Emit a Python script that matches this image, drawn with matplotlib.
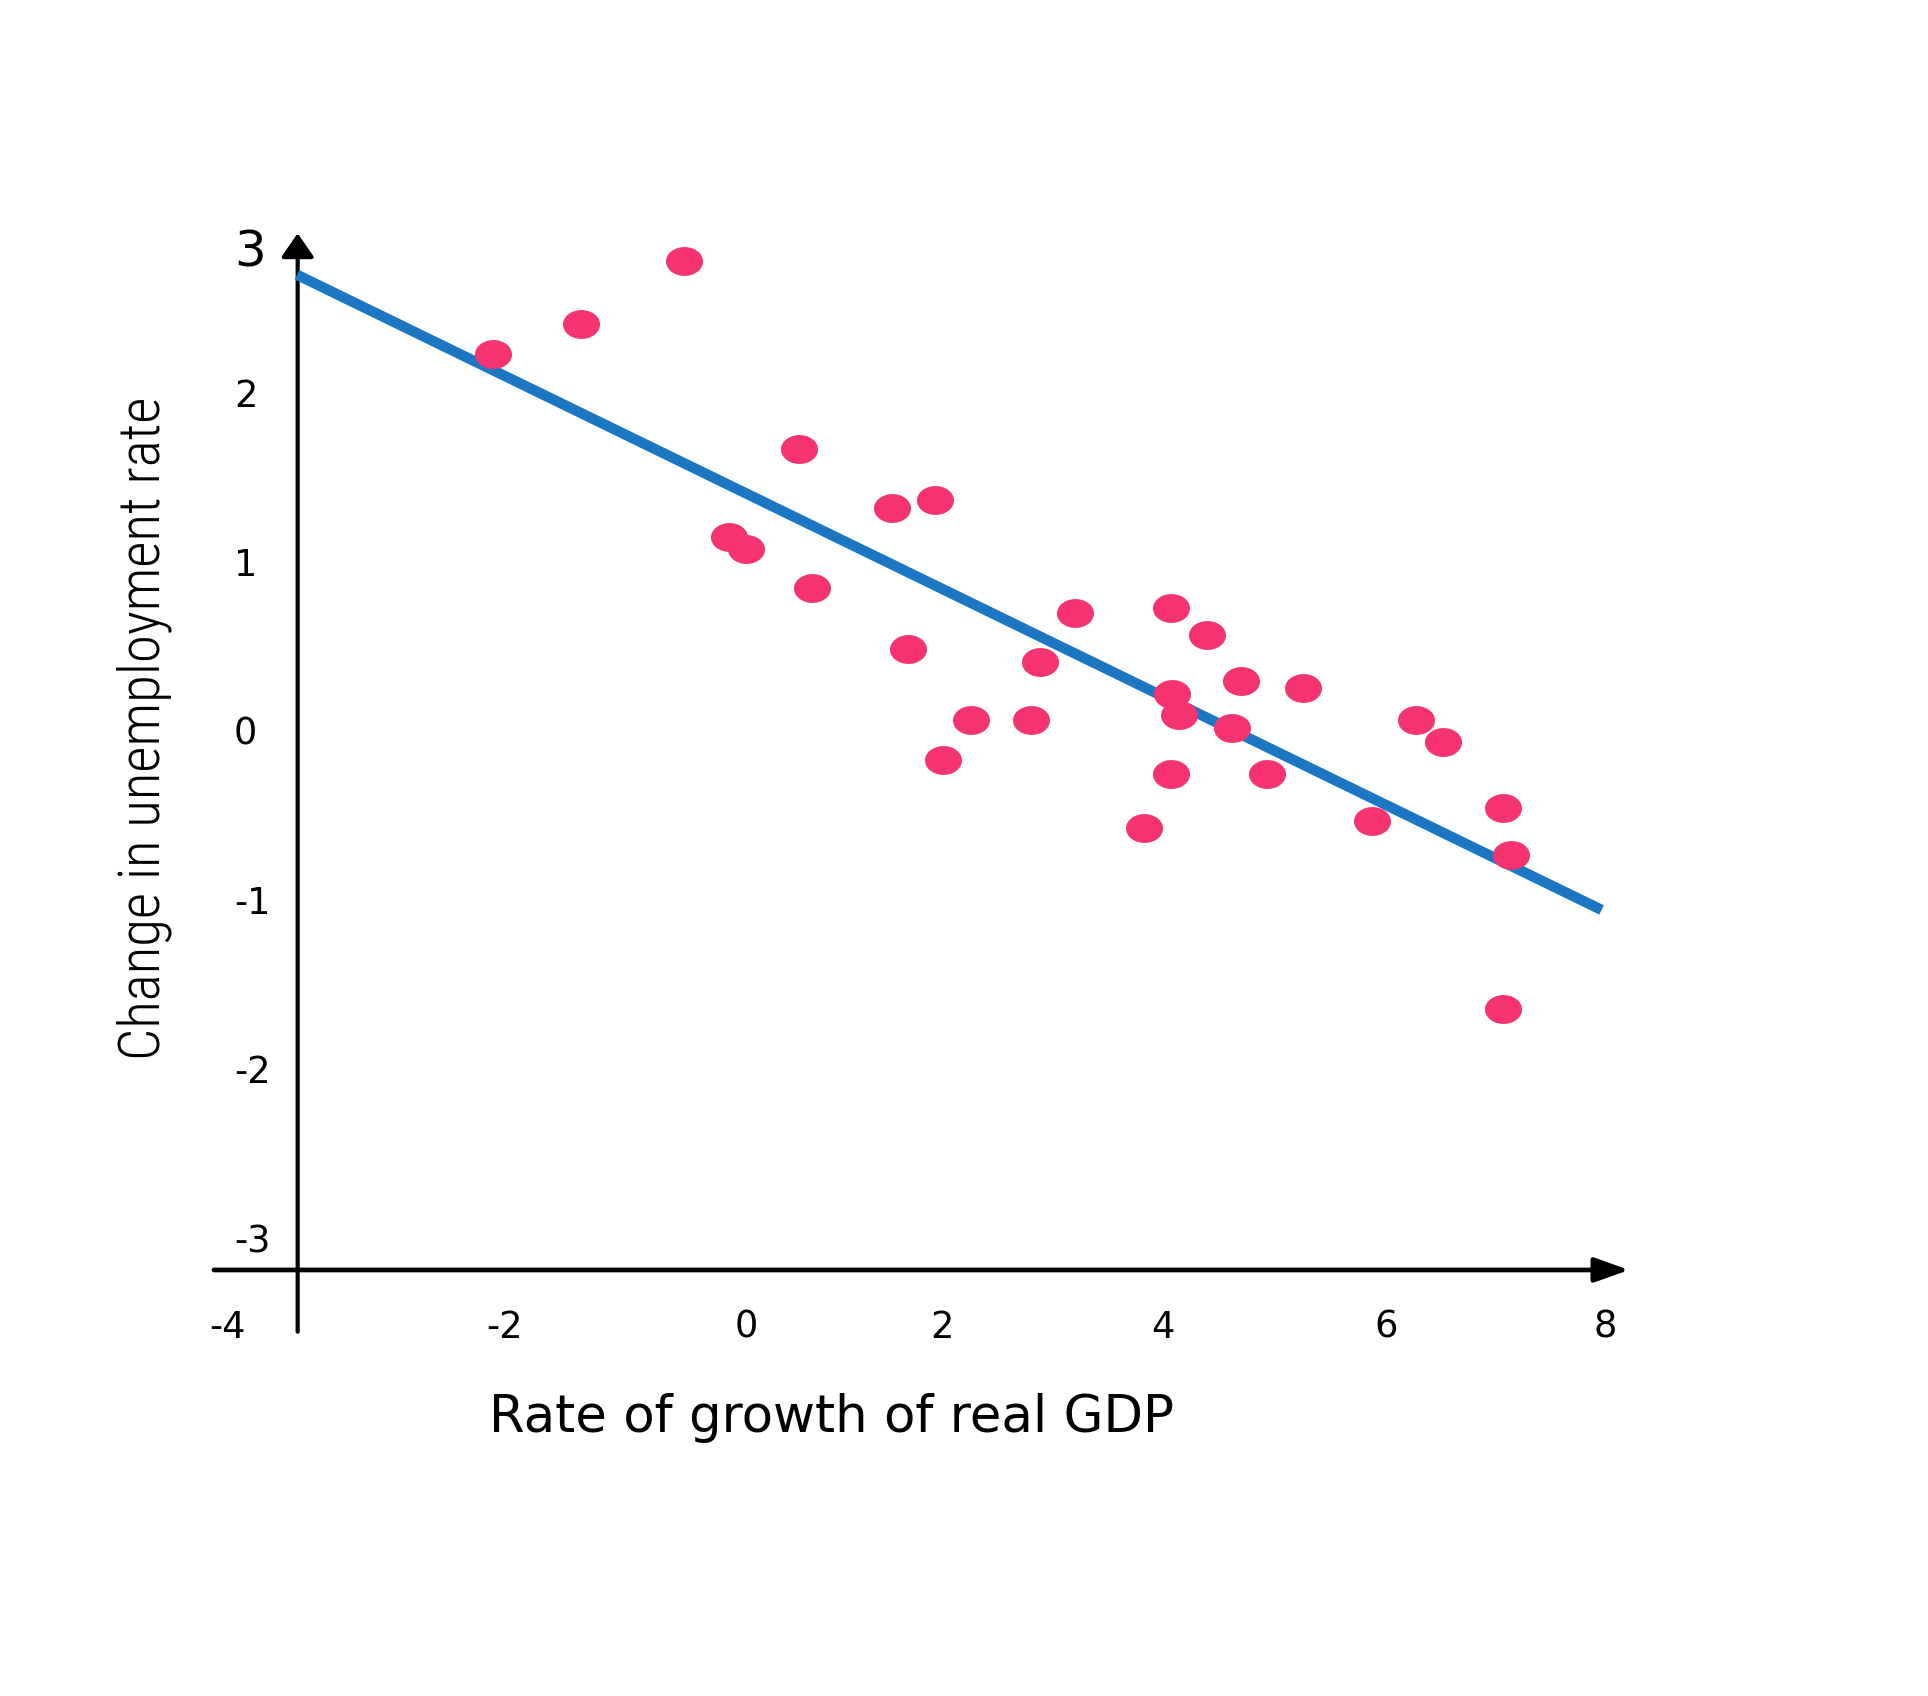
import matplotlib
matplotlib.use("Agg")
import matplotlib.pyplot as plt
import numpy as np
from matplotlib.transforms import ScaledTranslation
from matplotlib import font_manager

# ---------------- data ----------------
gdp_growth = [-2.17, -1.36, -0.42, 0.63, -0.01, 0.15, 0.75, 1.48, 1.87, 1.63,
              2.20, 1.95, 2.83, 2.75, 3.15, 4.03, 4.36, 4.04, 4.11, 4.59,
              4.67, 5.24, 4.03, 4.91, 3.79, 5.87, 6.27, 6.52, 7.07, 7.14, 7.07]
unemp_change = [2.23, 2.41, 2.78, 1.67, 1.15, 1.08, 0.85, 1.32, 1.37, 0.49,
                0.07, -0.17, 0.41, 0.07, 0.70, 0.73, 0.57, 0.22, 0.10, 0.02,
                0.30, 0.26, -0.25, -0.25, -0.57, -0.53, 0.07, -0.06, -0.45, -0.73, -1.64]

fit_x = [-3.96, 7.97]
fit_y = [2.70, -1.054]

x_ticks = [-4, -2, 0, 2, 4, 6, 8]
x_tick_labels = ["-4", "-2", "0", "2", "4", "6", "8"]
y_ticks = [-3, -2, -1, 0, 1, 2]
y_tick_labels = ["-3", "-2", "-1", "0", "1", "2"]
y_top_label = "3"

x_label = "Rate of growth of real GDP"
y_label = "Change in unemployment rate"

# ---------------- style ----------------
DOT_COLOR = "#f4336f"
LINE_COLOR = "#1c77c3"

fig = plt.figure(figsize=(19.28, 16.96), dpi=100)
ax = fig.add_axes([0, 0, 1, 1])
ax.set_xlim(-6.676, 10.955)
ax.set_ylim(-5.700, 4.324)
ax.axis("off")

X_AXIS_Y = -3.182
Y_AXIS_X = -3.954

def px(dx, dy):
    return ScaledTranslation(dx / 100.0, dy / 100.0, fig.dpi_scale_trans)

# axes with arrows
ax.annotate("", xy=(8.221, X_AXIS_Y), xytext=(-4.719, X_AXIS_Y),
            arrowprops=dict(arrowstyle="-|>,head_length=2.1,head_width=0.75",
                            mutation_scale=10, lw=3.4, color="black",
                            shrinkA=0, shrinkB=0), zorder=1)
ax.annotate("", xy=(Y_AXIS_X, 2.945), xytext=(Y_AXIS_X, -3.547),
            arrowprops=dict(arrowstyle="-|>,head_length=1.45,head_width=1.0",
                            mutation_scale=10, lw=3.0, color="black",
                            shrinkA=0, shrinkB=0), zorder=1)

# regression line
ax.plot(fit_x, fit_y, color=LINE_COLOR, lw=7.5, solid_capstyle="butt", zorder=2)

# elliptical dots
t = np.linspace(0, 2 * np.pi, 80)
ell = np.column_stack([np.cos(t), 0.78 * np.sin(t)])
ax.scatter(gdp_growth, unemp_change, marker=ell, s=710, c=DOT_COLOR,
           linewidths=0, zorder=3)

# x tick labels
x_nudge = {-4: -65, -2: -7, 0: 16, 2: -7, 4: -5}
for v, lab in zip(x_ticks, x_tick_labels):
    ax.text(v, X_AXIS_Y, lab, ha="center", va="baseline", fontsize=26.5,
            family="DejaVu Sans",
            transform=ax.transData + px(x_nudge.get(v, 0), -68))

# y tick labels
for v, lab in zip(y_ticks, y_tick_labels):
    ax.text(Y_AXIS_X, v, lab, ha="left", va="baseline", fontsize=26.5,
            family="DejaVu Sans", transform=ax.transData + px(-63.6, -13.4))
ax.text(Y_AXIS_X, 3, y_top_label, ha="left", va="baseline", fontsize=36,
        family="DejaVu Sans", transform=ax.transData + px(-63.6, -42))

# axis titles
ax.text(0.924, -4.139, x_label, ha="center", va="baseline", fontsize=37,
        family="DejaVu Sans")

installed = {f.name for f in font_manager.fontManager.ttflist}
ylab_family = [f for f in ["Roboto Condensed", "Roboto", "DejaVu Sans"] if f in installed]
ylab = ax.text(-5.213, 0.021, y_label, rotation=90, rotation_mode="anchor",
               ha="center", va="baseline", fontsize=40,
               family=ylab_family, fontweight="light")
fig.canvas.draw()
bb = ylab.get_window_extent()
ylab.set_fontsize(40 * 664.0 / bb.height)

fig.savefig("out.png", dpi=100, facecolor="white")
